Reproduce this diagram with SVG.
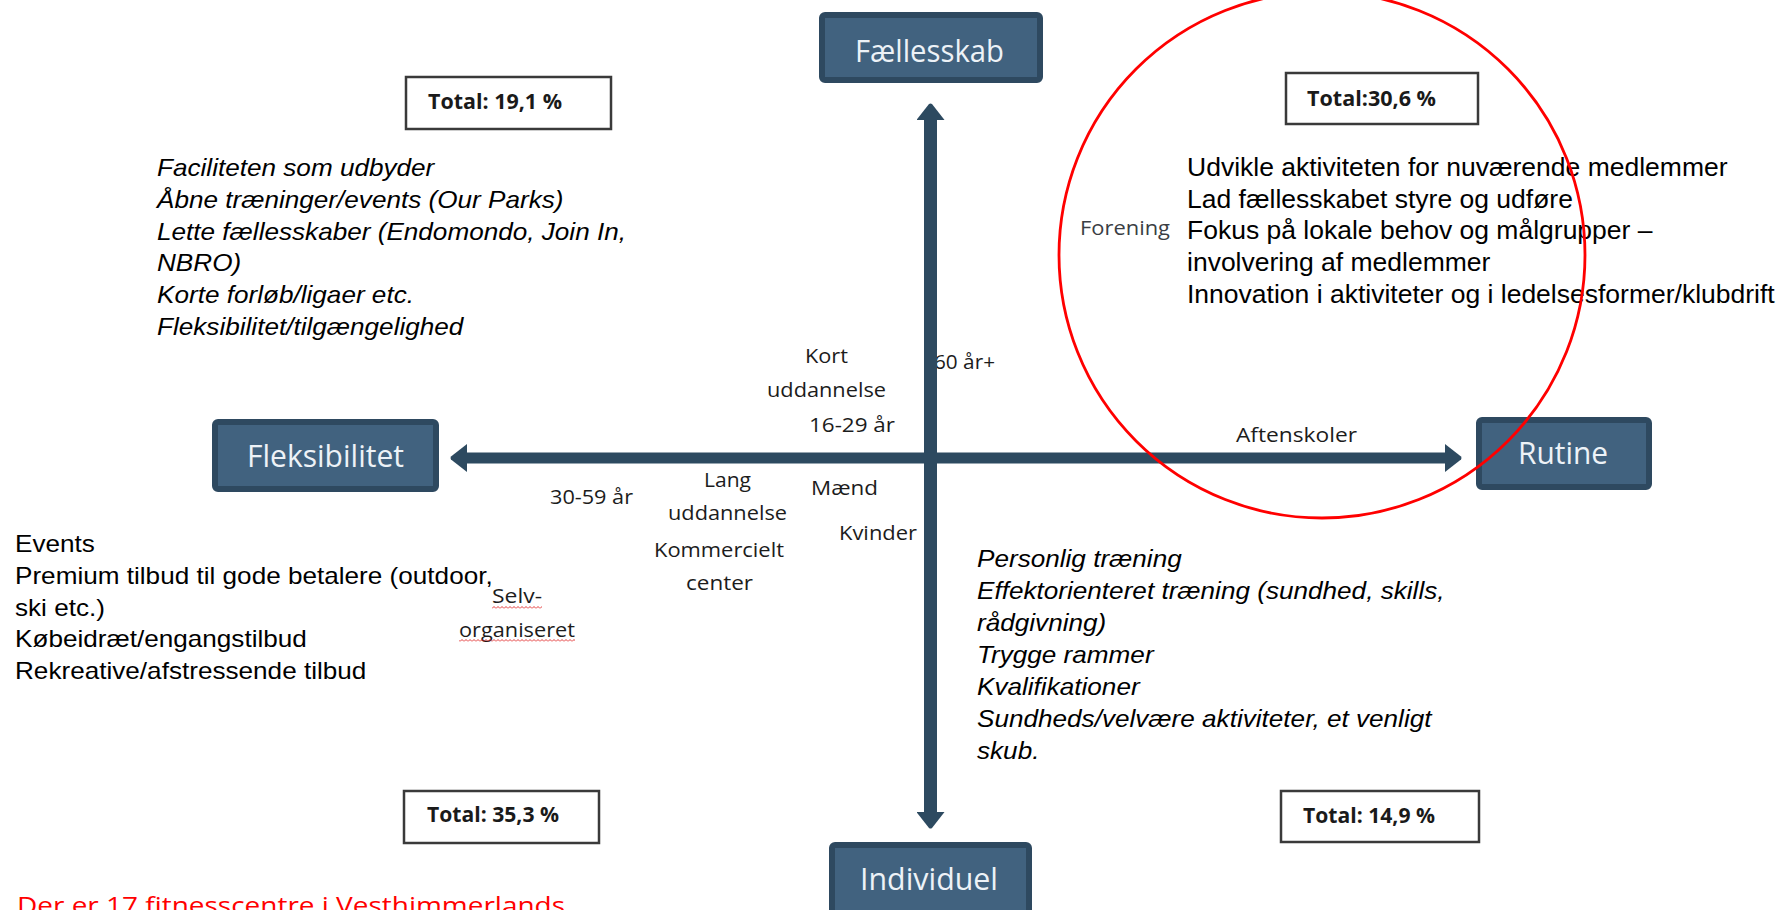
<svg xmlns="http://www.w3.org/2000/svg" width="1781" height="910" viewBox="0 0 1781 910">
<style>
.axis-box{fill:#41627f;stroke:#2e4960;stroke-width:6}
.axis-txt{font-family:"Open Sans","Noto Sans",sans-serif;font-size:31px;fill:#edf2f7}
.tot-box{fill:#fff;stroke:#3a3a3a;stroke-width:2.5}
.tot-txt{font-family:"Open Sans","Noto Sans",sans-serif;font-weight:bold;font-size:22px;fill:#1a1a1a}
.lbl{font-family:"Open Sans","Noto Sans",sans-serif;font-size:20px;fill:#1c1c1c}
.arial{font-family:"Liberation Sans",Arial,sans-serif;font-size:23px;fill:#000}
.it{font-style:italic}
.conn{stroke:#2d4a60;fill:none}
</style>
<defs>
<marker id="head" viewBox="0 0 17 28" refX="1" refY="14" markerWidth="17" markerHeight="28" markerUnits="userSpaceOnUse" orient="auto-start-reverse">
<path d="M0,0 L16,12.5 Q17,14 16,15.5 L0,28 Z" fill="#2d4a60"/>
</marker>
<pattern id="wave" x="0" y="0" width="4" height="3" patternUnits="userSpaceOnUse">
<path d="M0,2.5 L2,0.5 L4,2.5" stroke="#e02020" stroke-width="0.9" fill="none"/>
</pattern>
</defs>
<rect width="1781" height="910" fill="#fff"/>

<g id="text-top-left">
<text class="arial it" transform="translate(157 0) scale(1.1358 1)"><tspan x="0" y="176">Faciliteten som udbyder</tspan><tspan x="0" y="208">Åbne træninger/events (Our Parks)</tspan><tspan x="0" y="240">Lette fællesskaber (Endomondo, Join In,</tspan><tspan x="0" y="271">NBRO)</tspan><tspan x="0" y="303">Korte forløb/ligaer etc.</tspan><tspan x="0" y="335">Fleksibilitet/tilgængelighed</tspan></text>
</g>
<g id="text-top-right">
<text class="arial" style="font-size:26.5px"><tspan x="1187" y="176">Udvikle aktiviteten for nuværende medlemmer</tspan><tspan x="1187" y="208">Lad fællesskabet styre og udføre</tspan><tspan x="1187" y="239">Fokus på lokale behov og målgrupper –</tspan><tspan x="1187" y="271">involvering af medlemmer</tspan><tspan x="1187" y="303">Innovation i aktiviteter og i ledelsesformer/klubdrift</tspan></text>
</g>
<g id="text-bottom-left">
<text class="arial" transform="translate(15 0) scale(1.1358 1)"><tspan x="0" y="552">Events</tspan><tspan x="0" y="584">Premium tilbud til gode betalere (outdoor,</tspan><tspan x="0" y="616">ski etc.)</tspan><tspan x="0" y="647">Købeidræt/engangstilbud</tspan><tspan x="0" y="679">Rekreative/afstressende tilbud</tspan></text>
</g>
<g id="text-bottom-right">
<text class="arial it" transform="translate(977 0) scale(1.1358 1)"><tspan x="0" y="567">Personlig træning</tspan><tspan x="0" y="599">Effektorienteret træning (sundhed, skills,</tspan><tspan x="0" y="631">rådgivning)</tspan><tspan x="0" y="663">Trygge rammer</tspan><tspan x="0" y="695">Kvalifikationer</tspan><tspan x="0" y="727">Sundheds/velvære aktiviteter, et venligt</tspan><tspan x="0" y="759">skub.</tspan></text>
</g>

<g id="labels">
<text class="lbl" x="805" y="363" textLength="43" lengthAdjust="spacingAndGlyphs">Kort</text>
<text class="lbl" x="767" y="397" textLength="119" lengthAdjust="spacingAndGlyphs">uddannelse</text>
<text class="lbl" x="809" y="432" textLength="86" lengthAdjust="spacingAndGlyphs">16-29 år</text>
<text class="lbl" x="934" y="369" textLength="61" lengthAdjust="spacingAndGlyphs">60 år+</text>
<text class="lbl" x="550" y="504" textLength="83" lengthAdjust="spacingAndGlyphs">30-59 år</text>
<text class="lbl" x="704" y="487" textLength="47" lengthAdjust="spacingAndGlyphs">Lang</text>
<text class="lbl" x="668" y="520" textLength="119" lengthAdjust="spacingAndGlyphs">uddannelse</text>
<text class="lbl" x="654" y="557" textLength="130" lengthAdjust="spacingAndGlyphs">Kommercielt</text>
<text class="lbl" x="686" y="590" textLength="67" lengthAdjust="spacingAndGlyphs">center</text>
<text class="lbl" x="811" y="495" textLength="67" lengthAdjust="spacingAndGlyphs">Mænd</text>
<text class="lbl" x="839" y="540" textLength="78" lengthAdjust="spacingAndGlyphs">Kvinder</text>
<text class="lbl" x="1236" y="442" textLength="121" lengthAdjust="spacingAndGlyphs">Aftenskoler</text>
<text class="lbl" x="492" y="603" textLength="50" lengthAdjust="spacingAndGlyphs">Selv-</text>
<rect x="492" y="606" width="50" height="3" fill="url(#wave)"/>
<text class="lbl" x="459" y="637" textLength="116" lengthAdjust="spacingAndGlyphs">organiseret</text>
<rect x="459" y="639" width="116" height="3" fill="url(#wave)"/>
<text class="lbl" x="1080" y="235" textLength="90" lengthAdjust="spacingAndGlyphs" style="fill:#3a3e44">Forening</text>
</g>

<g id="connectors">
<line class="conn" x1="930.5" y1="119" x2="930.5" y2="813" stroke-width="13" marker-start="url(#head)" marker-end="url(#head)"/>
<line class="conn" x1="466" y1="458" x2="1446" y2="458" stroke-width="11" marker-start="url(#head)" marker-end="url(#head)"/>
</g>

<g id="node-faellesskab">
<rect class="axis-box" x="822" y="15" width="218" height="65" rx="3"/>
<text class="axis-txt" x="855" y="62" textLength="149" lengthAdjust="spacingAndGlyphs">Fællesskab</text>
</g>
<g id="node-fleksibilitet">
<rect class="axis-box" x="215" y="422" width="221" height="67" rx="3"/>
<text class="axis-txt" x="247" y="467" textLength="157" lengthAdjust="spacingAndGlyphs">Fleksibilitet</text>
</g>
<g id="node-rutine">
<rect class="axis-box" x="1479" y="420" width="170" height="67" rx="3"/>
<text class="axis-txt" x="1518" y="464" textLength="90" lengthAdjust="spacingAndGlyphs">Rutine</text>
</g>
<g id="node-individuel">
<rect class="axis-box" x="832" y="845" width="197" height="75" rx="3"/>
<text class="axis-txt" x="860" y="890" textLength="138" lengthAdjust="spacingAndGlyphs">Individuel</text>
</g>

<g id="total-top-left">
<rect class="tot-box" x="406" y="77" width="205" height="52"/>
<text class="tot-txt" x="428" y="109" textLength="134" lengthAdjust="spacingAndGlyphs">Total: 19,1 %</text>
</g>
<g id="total-top-right">
<rect class="tot-box" x="1286" y="73" width="192" height="51"/>
<text class="tot-txt" x="1307" y="106" textLength="129" lengthAdjust="spacingAndGlyphs">Total:30,6 %</text>
</g>
<g id="total-bottom-left">
<rect class="tot-box" x="404" y="791" width="195" height="52"/>
<text class="tot-txt" x="427" y="822" textLength="132" lengthAdjust="spacingAndGlyphs">Total: 35,3 %</text>
</g>
<g id="total-bottom-right">
<rect class="tot-box" x="1281" y="791" width="198" height="51"/>
<text class="tot-txt" x="1303" y="823" textLength="132" lengthAdjust="spacingAndGlyphs">Total: 14,9 %</text>
</g>

<g id="note">
<text x="17" y="914" textLength="548" lengthAdjust="spacingAndGlyphs" style="font-family:'Open Sans','Noto Sans',sans-serif;font-size:24px;fill:#ff0000">Der er 17 fitnesscentre i  Vesthimmerlands</text>
</g>

<g id="highlight-circle">
<circle cx="1322" cy="255" r="263" fill="none" stroke="#ff0000" stroke-width="2.8"/>
</g>
</svg>
